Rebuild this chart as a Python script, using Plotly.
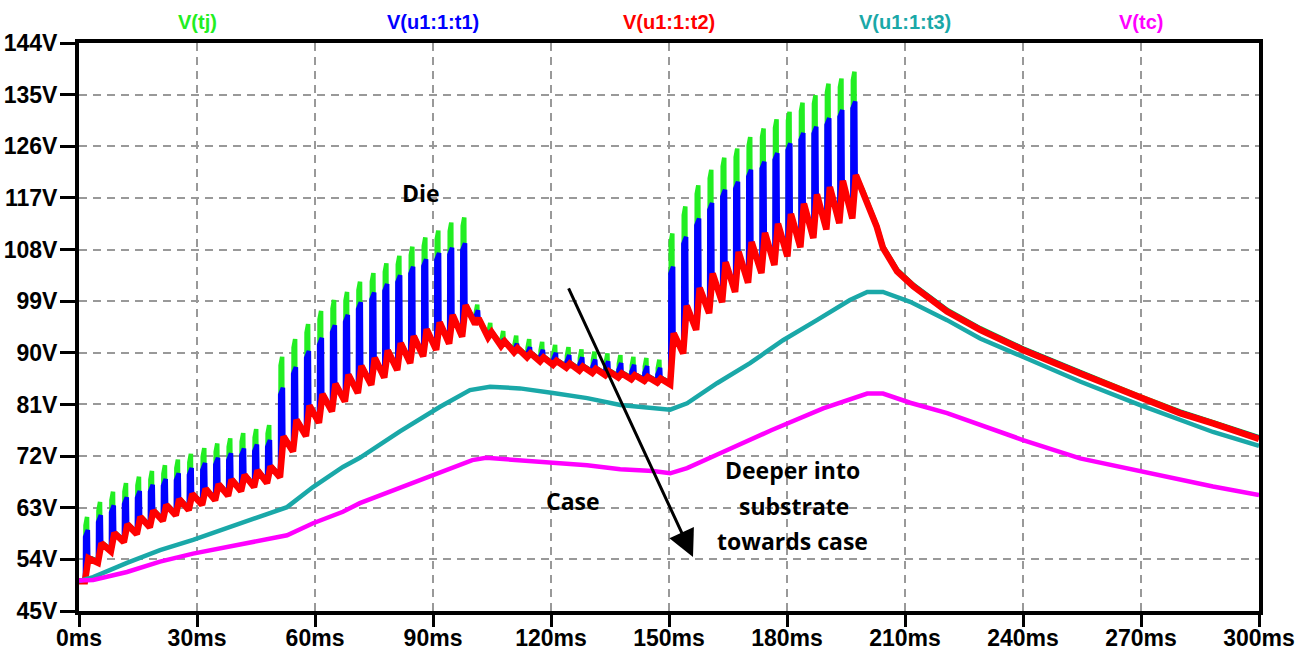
import plotly.graph_objects as go

# ---------------- data ----------------
# start time (ms) of each heating pulse
pulse_start_ms = [1.5, 4.8, 8.1, 11.4, 14.7, 18.0, 21.3, 24.6, 27.9, 31.3,
                  34.6, 37.9, 41.2, 44.5, 47.8, 51.1, 54.4, 57.7, 61.0, 64.3,
                  67.6, 70.9, 74.3, 77.6, 80.9, 84.2, 87.5, 90.8, 94.1, 97.4,
                  100.7, 104.0, 107.3, 110.6, 113.9, 117.2, 120.5, 123.9, 127.2, 130.5,
                  133.8, 137.1, 140.4, 143.7, 147.0, 150.3, 153.6, 156.9, 160.2, 163.5,
                  166.8, 170.1, 173.5, 176.8, 180.1, 183.4, 186.7, 190.0, 193.3, 196.6]

# V(tj) pulse peaks
tj_peak = [61.4, 64.0, 65.8, 67.3, 68.4, 69.4, 70.4, 71.4, 72.4, 73.4, 74.2, 75.1, 76.0, 76.7, 77.4,
           89.3, 92.4, 95.0, 97.3, 99.2, 100.6, 102.4, 103.9, 105.6, 106.9, 108.5, 110.1, 111.3, 112.7, 113.6,
           98.4, 95.2, 93.8, 93.0, 92.4, 91.9, 91.4, 91.0, 90.6, 90.2, 89.9, 89.6, 89.3, 89.1, 88.8,
           110.8, 115.5, 119.2, 121.9, 124.0, 125.6, 127.6, 129.1, 130.7, 132.0, 133.6, 134.9, 136.9, 137.8, 139.0]

# V(u1:1:t1) pulse peaks
t1_peak = [59.1, 61.7, 63.4, 64.8, 65.9, 67.0, 68.0, 69.0, 69.9, 70.8, 71.7, 72.5, 73.3, 74.0, 74.8,
           83.9, 87.5, 90.3, 92.6, 94.8, 96.6, 98.8, 100.5, 102.0, 103.5, 105.0, 106.3, 107.4, 108.3, 109.1,
           97.4, 93.9, 92.4, 91.6, 91.0, 90.5, 90.0, 89.6, 89.2, 88.8, 88.5, 88.2, 87.9, 87.7, 87.4,
           105.0, 110.2, 113.4, 116.1, 118.4, 119.8, 121.9, 123.3, 124.8, 126.5, 128.3, 129.4, 130.9, 132.3, 133.8]

# V(u1:1:t2) sawtooth: value at pulse start and peak at pulse end
t2_trough = [50.2, 53.4, 55.4, 57.0, 58.4, 59.6, 60.7, 61.7, 62.6, 63.5, 64.3, 65.1, 65.9, 66.6, 67.3,
             68.3, 72.8, 75.5, 77.8, 79.8, 81.5, 83.0, 84.4, 85.7, 87.0, 88.2, 89.4, 90.5, 91.6, 92.8,
             95.0, 92.7, 91.2, 90.1, 89.2, 88.5, 87.9, 87.4, 86.9, 86.5, 86.1, 85.7, 85.4, 85.1, 84.8,
             84.5, 89.9, 94.0, 96.9, 98.8, 100.6, 102.2, 103.9, 105.3, 106.8, 108.4, 110.0, 111.5, 112.6, 113.4]
t2_peak = [54.2, 56.8, 58.6, 60.1, 61.4, 62.5, 63.5, 64.5, 65.4, 66.3, 67.1, 67.9, 68.7, 69.5, 70.2,
           75.4, 78.3, 80.8, 82.8, 84.6, 86.2, 87.7, 89.1, 90.4, 91.7, 92.9, 94.1, 95.3, 96.6, 98.3,
           96.0, 93.6, 92.0, 90.8, 89.9, 89.2, 88.6, 88.1, 87.6, 87.2, 86.8, 86.4, 86.1, 85.8, 85.5,
           93.4, 98.2, 101.3, 103.8, 105.8, 107.6, 109.3, 110.9, 112.5, 114.2, 116.0, 117.6, 118.9, 120.0, 121.0]

# cooling tail after the last pulse (die traces merge)
tail_ms = [199.4, 201.1, 202.8, 204.4, 208.0, 212.1, 220.7, 229.1, 240.0, 254.5, 269.8, 279.9, 288.3, 300.0]
t2_tail = [117.9, 114.9, 112.0, 108.3, 104.2, 101.6, 97.2, 94.0, 90.5, 86.4, 82.1, 79.5, 77.7, 75.0]

# V(u1:1:t3)
t3_ms = [0.0, 3.6, 12.2, 20.6, 29.0, 37.6, 46.0, 52.9, 59.5, 67.1, 71.4, 81.6, 91.8, 99.4, 104.5,
         112.1, 120.5, 129.2, 137.6, 145.9, 150.3, 154.6, 162.2, 170.6, 179.0, 187.6, 196.0, 200.4,
         204.4, 211.3, 220.7, 229.1, 240.0, 254.5, 269.8, 279.9, 288.3, 300.0]
t3_v = [50.2, 50.9, 53.4, 55.6, 57.4, 59.5, 61.4, 63.1, 66.6, 70.1, 71.7, 76.3, 80.6, 83.5, 84.1,
        83.8, 83.0, 82.1, 80.9, 80.3, 80.1, 81.2, 84.7, 88.2, 92.2, 95.7, 99.2, 100.6,
        100.6, 98.9, 95.7, 92.5, 89.3, 85.0, 80.9, 78.3, 76.2, 73.8]

# V(tc)
tc_ms = [0.0, 3.6, 12.2, 20.6, 29.0, 37.6, 46.0, 52.9, 59.5, 67.1, 71.4, 81.6, 91.8, 100.0, 103.5,
         112.1, 120.5, 129.2, 137.6, 145.9, 150.3, 154.6, 163.0, 176.0, 189.2, 200.4, 204.4, 211.3,
         220.7, 229.1, 240.0, 254.5, 269.8, 279.9, 288.3, 300.0]
tc_v = [50.3, 50.4, 51.8, 53.6, 55.0, 56.2, 57.4, 58.2, 60.3, 62.3, 63.8, 66.4, 69.2, 71.3, 71.7,
        71.3, 71.0, 70.4, 69.7, 69.4, 69.0, 69.9, 72.5, 76.5, 80.3, 82.9, 82.9, 81.3,
        79.5, 77.4, 74.8, 71.6, 69.3, 67.8, 66.7, 65.2]

y_ticks = [45, 54, 63, 72, 81, 90, 99, 108, 117, 126, 135, 144]
x_ticks = [0, 30, 60, 90, 120, 150, 180, 210, 240, 270, 300]

trace_names = ["V(tj)", "V(u1:1:t1)", "V(u1:1:t2)", "V(u1:1:t3)", "V(tc)"]
trace_colors = ["#22ee22", "#0000ff", "#ff0000", "#1aa8a8", "#ff00ff"]

# ---------------- build pulsed waveforms ----------------
gx, gy = [0.0], [t2_trough[0]]
bx, by = [0.0], [t2_trough[0]]
rx, ry = [0.0], [t2_trough[0]]
for k, ts in enumerate(pulse_start_ms):
    tr, pk = t2_trough[k], t2_peak[k]
    rx += [ts, ts + 0.9]
    ry += [tr, pk]
    gx += [ts + 0.1, ts + 0.15, ts + 0.55, ts + 0.65]
    gy += [tr + 0.3, tj_peak[k] - 1.5, tj_peak[k], pk + 0.3]
    bx += [ts, ts + 0.05, ts + 0.75, ts + 0.85]
    by += [tr + 0.2, t1_peak[k] - 1.2, t1_peak[k], pk + 0.2]
for t, v in zip(tail_ms, t2_tail):
    rx.append(t); ry.append(v)
    gx.append(t); gy.append(v + 0.3)
    bx.append(t); by.append(v + 0.2)

fig = go.Figure()
fig.add_trace(go.Scatter(x=gx, y=gy, mode="lines", line=dict(color=trace_colors[0], width=4.5), name=trace_names[0]))
fig.add_trace(go.Scatter(x=bx, y=by, mode="lines", line=dict(color=trace_colors[1], width=4.5), name=trace_names[1]))
fig.add_trace(go.Scatter(x=rx, y=ry, mode="lines", line=dict(color=trace_colors[2], width=6.5), name=trace_names[2]))
fig.add_trace(go.Scatter(x=t3_ms, y=t3_v, mode="lines", line=dict(color=trace_colors[3], width=4.5), name=trace_names[3]))
fig.add_trace(go.Scatter(x=tc_ms, y=tc_v, mode="lines", line=dict(color=trace_colors[4], width=4.5), name=trace_names[4]))

labfont = "Liberation Sans, Arial, sans-serif"
tickfont = dict(family=labfont, size=23, color="black", weight="bold")
axis_common = dict(showline=True, linecolor="black", linewidth=4, mirror=True,
                   ticks="outside", tickcolor="black", tickwidth=3, automargin=False,
                   showgrid=True, gridcolor="#999999", gridwidth=1.5, griddash="8px,6px",
                   zeroline=False, tickfont=tickfont)

fig.update_layout(
    width=1303, height=652,
    margin=dict(l=79, r=44, t=43, b=41),
    paper_bgcolor="white", plot_bgcolor="white",
    showlegend=False,
    xaxis=dict(range=[0, 300], tickvals=x_ticks, ticktext=[f"{v}ms" for v in x_ticks],
               ticklen=12, ticklabelstandoff=-9, **axis_common),
    yaxis=dict(range=[45, 144], tickvals=y_ticks, ticktext=[f"{v}V" for v in y_ticks],
               ticklen=15, ticklabelstandoff=-2, **axis_common),
)

# trace labels across the top
for xpos, name, col in zip([30, 90, 150, 210, 270], trace_names, trace_colors):
    fig.add_annotation(x=xpos, y=1.037, xref="x", yref="paper", text=name, showarrow=False,
                       font=dict(family=labfont, size=20, color=col, weight="bold"),
                       xanchor="center", yanchor="middle")

txtfont = dict(family="Open Sans, Noto Sans, sans-serif", size=23, color="black", weight="bold")
fig.add_annotation(x=87.0, y=117.8, text="Die", showarrow=False, font=txtfont)
fig.add_annotation(x=125.6, y=64.2, text="Case", showarrow=False, font=txtfont)
fig.add_annotation(x=181.5, y=69.6, text="Deeper into", showarrow=False, font=txtfont)
fig.add_annotation(x=181.8, y=63.3, text="substrate", showarrow=False, font=txtfont)
fig.add_annotation(x=181.5, y=57.2, text="towards case", showarrow=False, font=txtfont)

# arrow
fig.add_annotation(x=156.1, y=54.4, ax=124.3, ay=101.5, xref="x", yref="y", axref="x", ayref="y",
                   text="", showarrow=True, arrowhead=2, arrowsize=1.8, arrowwidth=3,
                   arrowcolor="black", standoff=0, startstandoff=0)

fig.write_html("out.html")
